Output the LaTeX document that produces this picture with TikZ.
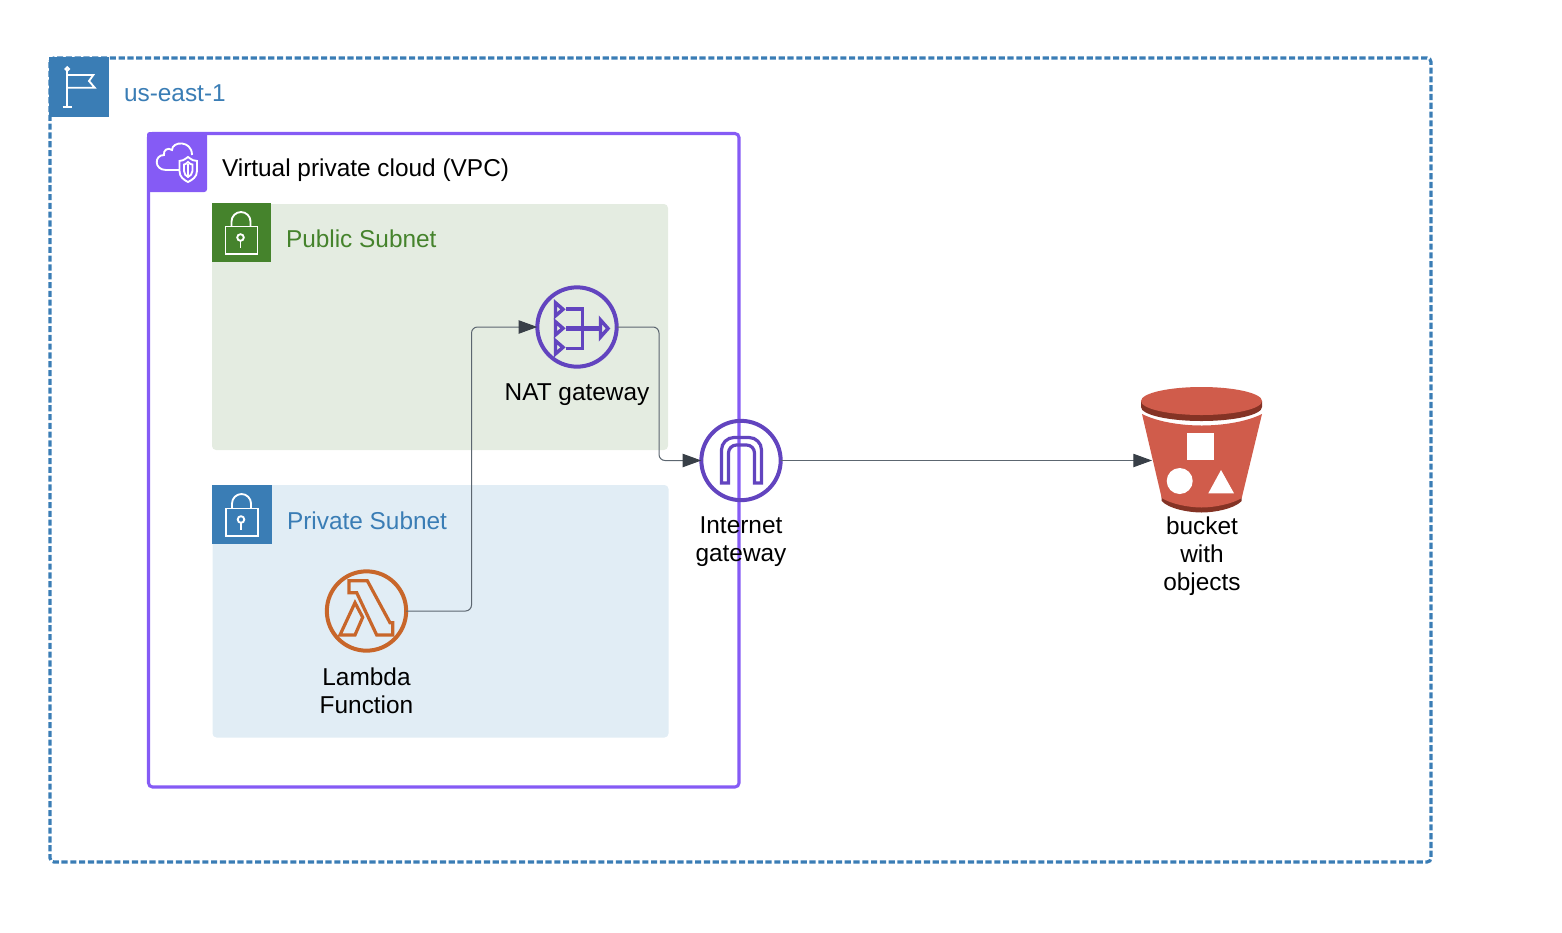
\documentclass[tikz,border=0pt]{standalone}
\usepackage{fontspec}
\setmainfont{Liberation Sans}
\usetikzlibrary{arrows.meta,calc}
\definecolor{regionblue}{HTML}{3A7DB5}
\definecolor{vpcpurple}{HTML}{855BF5}
\definecolor{icongrape}{HTML}{6244BF}
\definecolor{lambdaorange}{HTML}{C8662A}
\definecolor{pubgreen}{HTML}{45832C}
\definecolor{pubfill}{HTML}{E4ECE1}
\definecolor{prifill}{HTML}{E1EDF5}
\definecolor{connline}{HTML}{5C6670}
\definecolor{connhead}{HTML}{383F47}
\definecolor{bucketred}{HTML}{D05C4B}
\definecolor{bucketdark}{HTML}{843325}
\tikzset{
  lbl/.style={inner sep=0pt,outer sep=0pt,font=\fontsize{18.3pt}{21pt}\selectfont,align=center,text=black},
  iconcircle/.style={circle,draw,line width=3pt,minimum size=59.5pt,inner sep=0pt,outer sep=0pt},
  conn/.style={draw=connline,line width=0.75pt,rounded corners=4.5pt,-{Triangle[length=14pt,width=10pt,color=connhead]}},
  whiteicon/.style={draw=white,line width=1.4pt,line join=miter},
  lockbody/.pic={
    \draw[whiteicon] (13.5,23.5) rectangle (45.5,51);
    \draw[whiteicon] (19.5,23.5) -- (19.5,18.5) arc[start angle=180,end angle=360,radius=9.5] -- (38.5,23.5);
    \draw[whiteicon] (28.5,34.5) circle[radius=3.3];
    \draw[whiteicon] (28.5,37.8) -- (28.5,45);
  }
}
\begin{document}
\begin{tikzpicture}[x=0.75pt,y=-0.75pt]
\useasboundingbox (0,0) rectangle (1562,932);
% region
\draw[regionblue,line width=2.4pt,dash pattern=on 4.6pt off 2pt,rounded corners=3pt] (50,58) rectangle (1431,862);
\fill[regionblue] (49,57) rectangle (109,117);
\draw[whiteicon] (62.7,107) -- (72.3,107) (67.3,107) -- (67.3,71);
\draw[whiteicon] (67.3,69) circle[radius=1.8];
\draw[whiteicon] (67.3,75) -- (93.3,75) -- (89,81) -- (94.7,87.7) -- (67.3,87.7);
\node[lbl,text=regionblue,anchor=west] (regionlabel) at (124,93) {us-east-1};
% subnets
\fill[pubfill,rounded corners=3pt] (212,204) rectangle (668,450);
\fill[pubgreen] (212,203) rectangle (271,262);
\pic at (212,203) {lockbody};
\node[lbl,text=pubgreen,anchor=west] (publabel) at (286,238.5) {Public Subnet};
\fill[prifill,rounded corners=3pt] (212.5,485) rectangle (668.5,737.5);
\fill[regionblue] (212,485) rectangle (272,544);
\pic at (212.5,485) {lockbody};
\node[lbl,text=regionblue,anchor=west] (prilabel) at (287,520.5) {Private Subnet};
% vpc
\draw[vpcpurple,line width=2.3pt,rounded corners=3pt] (148.5,133.5) rectangle (739,787);
\fill[vpcpurple,rounded corners=2pt] (147,132) -- (207,132) -- (207,192) -- (147,192) -- cycle;
\draw[whiteicon] (180,170) -- (166,170) .. controls (154,170) and (154,155) .. (164,155) .. controls (163,150) and (168,147) .. (172,150) .. controls (172,141) and (192,140) .. (192,155);
\draw[whiteicon,fill=vpcpurple] (188,157) .. controls (184,160) and (182,161) .. (179.5,161) -- (179.5,171) .. controls (179.5,177) and (184,180) .. (188,182) .. controls (192,180) and (197,177) .. (197,171) -- (197,161) .. controls (194,161) and (192,160) .. (188,157) -- cycle;
\draw[whiteicon] (188,162) .. controls (186,164) and (185,164.5) .. (184,164.5) -- (184,171) .. controls (184,174) and (186,176) .. (188,177) .. controls (190,176) and (192.5,174) .. (192.5,171) -- (192.5,164.5) .. controls (191,164.5) and (190,164) .. (188,162) -- cycle;
\draw[whiteicon] (188,164) -- (188,176);
\node[lbl,anchor=west] (vpclabel) at (222,170.5) {Virtual private cloud (VPC)};
% icons
\node[iconcircle,draw=icongrape] (nat) at (577,327) {};
\node[iconcircle,draw=icongrape] (igw) at (741,460.5) {};
\node[iconcircle,draw=lambdaorange] (lambda) at (366.5,611) {};
% nat glyph
\begin{scope}[icongrape,line width=2.6pt,line join=miter]
\foreach \ty in {309.3,328.3,347.3}{\draw (555.5,\ty-6.5) -- (563,\ty) -- (555.5,\ty+6.5) -- cycle;}
\draw (600.5,320) -- (608,328.5) -- (600.5,337) -- cycle;
\draw (566,309) -- (582.5,309) -- (582.5,348.5) -- (566,348.5);
\draw[line width=3.6pt] (566,328.5) -- (600,328.5);
\end{scope}
% igw glyph
\draw[icongrape,line width=2.4pt,line join=miter] (721.5,483) -- (721.5,450) arc[start angle=180,end angle=270,radius=12.5] -- (749,437.5) arc[start angle=270,end angle=360,radius=12.5] -- (761.5,483) -- (754.5,483) -- (754.5,453) arc[start angle=0,end angle=-90,radius=8] -- (736.5,445) arc[start angle=270,end angle=180,radius=8] -- (728.5,483) -- cycle;
% lambda glyph
\draw[lambdaorange,line width=2.4pt,line join=miter] (349,580.7) -- (367.3,580.7) -- (390,622.7) -- (392.7,622.7) -- (392.7,635) -- (376.7,635) -- (356.7,592.7) -- (349,592.7) -- cycle;
\draw[lambdaorange,line width=2.4pt,line join=miter] (340,635) -- (355,602.7) -- (362.7,617.3) -- (355,635) -- cycle;
% bucket
\fill[bucketdark] (1161.7,496) -- (1241.7,496) -- (1241.7,501) .. controls (1234,509) and (1214,512.5) .. (1201.7,512.5) .. controls (1189,512.5) and (1169,509) .. (1161.7,501) -- cycle;
\fill[bucketred] (1142,414) .. controls (1160,423) and (1185,425.5) .. (1201.7,425.5) .. controls (1218,425.5) and (1244,423) .. (1262,414) -- (1241.7,498) .. controls (1232,504) and (1214,507.5) .. (1201.7,507.5) .. controls (1189,507.5) and (1171,504) .. (1161.7,498) -- cycle;
\fill[bucketdark] (1141,401) -- (1262,401) -- (1262,407) arc[x radius=60.5,y radius=14,start angle=0,end angle=180] -- cycle;
\fill[bucketred] (1201.5,401) ellipse[x radius=60.5,y radius=14];
\fill[white] (1187,433.3) rectangle (1214,460);
\fill[white] (1179.7,481) circle[radius=13];
\fill[white] (1208.3,493.3) -- (1234,493.3) -- (1221,470) -- cycle;
% connectors
\coordinate (elbowA) at (471.5,0);
\coordinate (elbowB) at (659,0);
\coordinate (bucketin) at (1152,460);
\draw[conn] (lambda.east) -- (lambda.east -| elbowA) -- (nat.west -| elbowA) -- (nat.west);
\draw[conn] (nat.east) -- (nat.east -| elbowB) -- (igw.west -| elbowB) -- (igw.west);
\draw[conn] (igw.east) -- (igw.east -| bucketin);
% labels
\node[lbl] (natlabel) at (577,395) {NAT gateway};
\node[lbl] (igwlabel) at (741,542) {Internet\\gateway};
\node[lbl] (lambdalabel) at (366.5,691) {Lambda\\Function};
\node[lbl] (bucketlabel) at (1202,556) {bucket\\with\\objects};
\end{tikzpicture}
\end{document}
